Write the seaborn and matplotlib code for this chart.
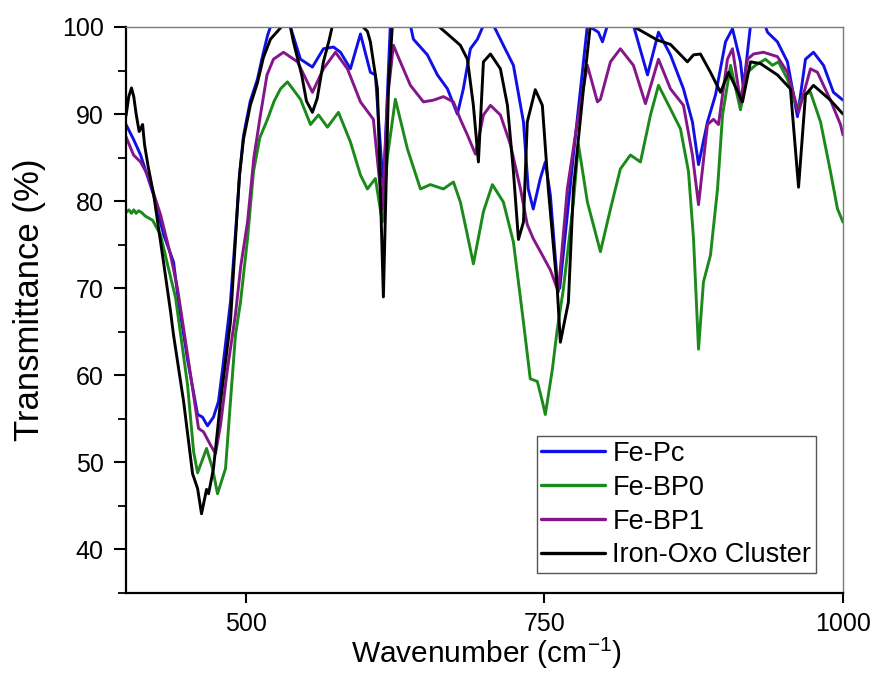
import matplotlib
matplotlib.use("Agg")
import matplotlib.pyplot as plt
from matplotlib.ticker import MultipleLocator
import pandas as pd
import seaborn as sns

# FT-IR spectra, wavenumber (cm^-1) vs transmittance (%)
fe_pc_wn = [400.0, 406.3, 412.2, 423.1, 431.4, 439.8, 444.0, 451.5, 459.9, 464.0,
            468.2, 473.2, 477.4, 480.8, 487.4, 492.0, 495.0, 498.3, 504.0, 510.0,
            514.0, 518.4, 522.0, 535.0, 537.6, 546.0, 556.0, 565.2, 573.6, 579.5,
            587.8, 596.2, 604.5, 608.7, 615.4, 621.2, 638.0, 640.5, 652.2, 660.6,
            669.0, 677.3, 682.3, 688.2, 694.1, 699.1, 707.5, 715.8, 724.2, 732.6,
            736.6, 740.8, 746.7, 750.9, 755.1, 760.9, 763.0, 774.4, 786.1, 795.3,
            798.7, 802.9, 824.6, 836.4, 845.6, 855.6, 866.5, 874.0, 879.1, 886.6,
            893.3, 901.7, 907.5, 914.2, 916.7, 920.0, 922.6, 935.0, 936.8, 945.1,
            953.5, 961.9, 968.6, 975.3, 983.7, 992.0, 1000.0]
fe_pc_t = [88.8, 87.1, 85.3, 80.7, 76.2, 73.0, 68.4, 61.8, 55.5, 55.2,
           54.2, 55.2, 57.0, 60.7, 68.4, 77.0, 83.0, 87.5, 91.5, 94.0,
           96.5, 99.0, 100.5, 100.5, 100.0, 96.3, 95.4, 97.5, 97.7, 97.1,
           95.2, 99.2, 94.8, 94.5, 81.4, 100.2, 100.2, 98.6, 96.8, 94.5,
           92.9, 90.0, 92.9, 97.5, 98.6, 100.2, 100.2, 97.9, 95.6, 89.1,
           81.4, 79.1, 82.6, 84.5, 80.7, 70.7, 70.0, 85.3, 100.2, 99.4,
           98.3, 100.2, 100.2, 94.5, 99.4, 96.8, 92.9, 89.1, 84.2, 89.1,
           92.2, 98.3, 99.8, 96.0, 92.9, 97.0, 100.2, 100.1, 99.4, 98.3,
           96.0, 89.7, 96.3, 97.1, 95.6, 92.5, 91.6]

fe_bp0_wn = [400.0, 402.5, 404.5, 406.5, 408.5, 410.5, 413.0, 416.0, 422.3, 429.0,
             434.8, 441.5, 451.5, 456.6, 459.9, 467.4, 472.4, 476.6, 483.3, 487.4,
             491.6, 495.8, 501.7, 506.7, 512.0, 518.4, 524.0, 529.3, 535.1, 546.0,
             554.4, 561.1, 568.6, 577.8, 587.8, 596.2, 602.0, 608.7, 614.5, 618.7,
             625.4, 635.5, 646.4, 654.7, 665.6, 674.0, 679.8, 685.7, 690.7, 699.1,
             706.6, 715.8, 724.2, 732.6, 738.3, 744.2, 748.4, 750.9, 756.8, 760.9,
             766.0, 774.4, 778.6, 786.1, 797.0, 805.4, 813.7, 822.1, 830.5, 838.9,
             845.6, 855.6, 864.0, 870.7, 874.9, 879.1, 883.2, 889.1, 895.0, 899.2,
             905.9, 914.2, 920.1, 926.7, 935.1, 941.0, 946.0, 953.5, 961.9, 966.9,
             972.8, 981.2, 989.5, 995.4, 1000.0]
fe_bp0_t = [78.7, 79.0, 78.6, 79.0, 78.6, 78.9, 78.7, 78.3, 77.8, 76.1,
            72.7, 68.9, 58.9, 51.2, 48.8, 51.6, 49.3, 46.4, 49.3, 57.0,
            64.6, 68.4, 75.7, 83.4, 87.3, 89.4, 91.5, 92.9, 93.7, 91.7,
            88.8, 89.9, 88.5, 90.2, 86.8, 83.0, 81.4, 82.6, 77.6, 85.0,
            91.7, 86.0, 81.4, 81.9, 81.4, 82.2, 79.9, 76.1, 72.8, 78.8,
            81.9, 79.9, 75.3, 66.1, 59.6, 59.3, 57.0, 55.5, 60.7, 65.3,
            69.9, 79.9, 86.5, 79.9, 74.2, 79.1, 83.7, 85.3, 84.5, 89.9,
            93.3, 90.6, 88.3, 83.4, 75.7, 63.0, 70.7, 73.8, 81.4, 89.9,
            95.6, 90.5, 94.8, 95.6, 96.3, 95.6, 96.0, 94.0, 90.6, 92.2,
            92.5, 89.1, 83.4, 79.1, 77.6]

fe_bp1_wn = [400.0, 406.3, 412.2, 418.1, 429.0, 437.3, 443.2, 447.4, 455.7, 460.7,
             464.9, 470.7, 474.9, 479.1, 484.9, 491.6, 496.0, 501.7, 507.0, 512.5,
             518.0, 523.4, 531.8, 543.5, 556.0, 565.2, 575.3, 585.3, 596.2, 607.0,
             614.5, 619.0, 623.8, 628.0, 638.0, 648.9, 657.3, 665.6, 674.0, 679.8,
             685.7, 692.4, 699.1, 705.0, 713.3, 721.7, 730.1, 735.8, 740.8, 748.4,
             755.1, 761.8, 769.3, 777.7, 786.1, 794.5, 797.0, 805.4, 813.7, 824.6,
             834.7, 845.6, 855.6, 866.5, 874.0, 879.1, 886.6, 891.6, 895.8, 903.3,
             907.5, 914.2, 920.1, 925.1, 933.4, 945.1, 953.5, 962.8, 972.8, 978.6,
             989.5, 997.9, 1000.0]
fe_bp1_t = [87.4, 85.3, 84.5, 83.0, 78.4, 73.8, 69.9, 66.1, 58.5, 53.9,
            53.5, 52.0, 51.0, 54.3, 60.7, 67.0, 72.5, 77.6, 85.0, 89.9,
            94.5, 96.3, 97.1, 96.0, 92.5, 95.2, 97.1, 95.2, 91.4, 89.4,
            79.1, 92.0, 97.9, 96.5, 93.3, 91.4, 91.6, 92.0, 91.4, 89.4,
            87.6, 85.4, 89.9, 91.0, 89.9, 86.5, 81.4, 77.3, 75.7, 73.8,
            72.1, 69.6, 81.4, 89.1, 95.6, 91.4, 91.7, 96.0, 97.5, 95.6,
            91.2, 96.3, 92.9, 91.0, 85.3, 79.6, 88.8, 89.4, 88.8, 96.3,
            97.5, 91.4, 96.3, 96.9, 97.1, 96.6, 94.8, 90.2, 95.2, 94.8,
            91.6, 88.8, 87.6]

oxo_wn = [400.0, 402.3, 404.6, 406.5, 408.5, 411.0, 412.2, 413.9, 415.5, 418.5,
          423.1, 431.4, 437.3, 439.8, 448.2, 455.7, 459.9, 463.2, 467.4, 469.1,
          473.2, 479.1, 487.4, 492.0, 495.0, 498.3, 504.0, 510.0, 515.0, 520.9,
          529.3, 532.0, 537.0, 540.1, 547.0, 551.0, 556.0, 560.0, 565.2, 570.0,
          572.8, 597.0, 602.0, 604.5, 610.4, 615.4, 619.6, 622.9, 660.6, 671.5,
          679.8, 685.7, 690.7, 694.9, 699.1, 705.0, 713.3, 719.2, 724.2, 728.4,
          732.6, 735.8, 742.5, 748.4, 753.4, 760.9, 763.5, 770.2, 774.4, 782.8,
          788.6, 800.0, 820.0, 828.0, 844.7, 855.6, 869.8, 874.9, 880.7, 889.1,
          897.5, 904.2, 915.9, 922.6, 930.9, 945.1, 956.0, 962.8, 968.6, 975.3,
          989.5, 1000.0]
oxo_t = [89.8, 92.0, 93.0, 92.0, 90.0, 88.0, 88.3, 88.8, 86.5, 84.0,
         80.8, 73.0, 67.3, 64.6, 57.0, 48.7, 47.0, 44.1, 46.9, 46.4,
         49.3, 57.0, 66.1, 76.5, 83.0, 87.1, 91.0, 93.6, 96.5, 98.6,
         99.9, 100.5, 100.4, 98.3, 94.5, 91.5, 90.2, 91.8, 96.0, 98.5,
         100.2, 100.2, 99.5, 98.3, 92.9, 69.0, 92.9, 100.2, 100.2, 98.9,
         97.9, 96.3, 91.0, 84.5, 96.0, 96.9, 95.2, 91.0, 83.4, 75.6,
         77.6, 89.1, 92.8, 91.0, 81.4, 69.9, 63.8, 68.4, 81.4, 92.9,
         100.2, 101.0, 101.0, 99.8, 98.5, 98.0, 96.0, 96.8, 96.9, 94.8,
         92.5, 94.8, 91.4, 96.0, 95.8, 94.5, 92.9, 81.6, 92.2, 93.3,
         91.6, 90.0]

labels = ["Fe-Pc", "Fe-BP0", "Fe-BP1", "Iron-Oxo Cluster"]
colors = ["#1010e6", "#1b8a1b", "#85168a", "#000000"]

frames = []
for name, wn, t in zip(labels,
                       [fe_pc_wn, fe_bp0_wn, fe_bp1_wn, oxo_wn],
                       [fe_pc_t, fe_bp0_t, fe_bp1_t, oxo_t]):
    frames.append(pd.DataFrame({"Wavenumber": wn, "Transmittance": t, "Sample": name}))
df = pd.concat(frames, ignore_index=True)

sns.set_theme(style="ticks")
plt.rcParams["font.family"] = ["Liberation Sans", "DejaVu Sans"]
plt.rcParams["mathtext.fontset"] = "custom"
plt.rcParams["mathtext.rm"] = "Liberation Sans"
plt.rcParams["text.color"] = "black"
plt.rcParams["axes.labelcolor"] = "black"

fig = plt.figure(figsize=(8.8, 6.73), dpi=100)
ax = fig.add_axes([126 / 880, 80 / 673, 717 / 880, 566 / 673])

sns.lineplot(data=df, x="Wavenumber", y="Transmittance", hue="Sample",
             hue_order=labels, palette=colors, estimator=None, sort=False,
             linewidth=2.1, ax=ax)
for line in ax.get_lines():
    line.set_solid_joinstyle("round")

ax.set_xlim(400, 1000)
ax.set_ylim(35, 100)
ax.xaxis.set_major_locator(MultipleLocator(250))
ax.set_yticks([40, 50, 60, 70, 80, 90, 100])
ax.yaxis.set_minor_locator(MultipleLocator(5))

ax.tick_params(axis="both", which="major", direction="out", width=1.5,
               labelsize=18, color="black", labelcolor="black")
ax.tick_params(axis="x", which="major", length=7.5, pad=6.5)
ax.tick_params(axis="y", which="major", length=9, pad=7)
ax.tick_params(axis="y", which="minor", direction="out", length=5.5, width=1.3,
               color="black")
ax.tick_params(top=False, right=False)

for side in ["left", "bottom"]:
    ax.spines[side].set_linewidth(1.6)
    ax.spines[side].set_color("black")
for side in ["top", "right"]:
    ax.spines[side].set_visible(True)
    ax.spines[side].set_linewidth(1.0)
    ax.spines[side].set_color("#7a7a7a")

ax.set_xlabel(r"Wavenumber (cm$^{\mathregular{-1}}$)", fontsize=21.5)
ax.set_ylabel("Transmittance (%)", fontsize=25)
ax.xaxis.set_label_coords(0.5025, -0.0735)
ax.yaxis.set_label_coords(-0.112, 0.518)

leg = ax.legend(loc="lower right", bbox_to_anchor=(0.9623, 0.0353), borderaxespad=0,
                fontsize=19.5, frameon=True, fancybox=False, handlelength=2.37,
                handletextpad=0.26, labelspacing=0.29, borderpad=0.17)
leg.get_frame().set_edgecolor("#555555")
leg.get_frame().set_linewidth(1.0)
leg.get_frame().set_alpha(1)
for line in leg.get_lines():
    line.set_linewidth(2.4)

fig.savefig("out.png", dpi=100)
